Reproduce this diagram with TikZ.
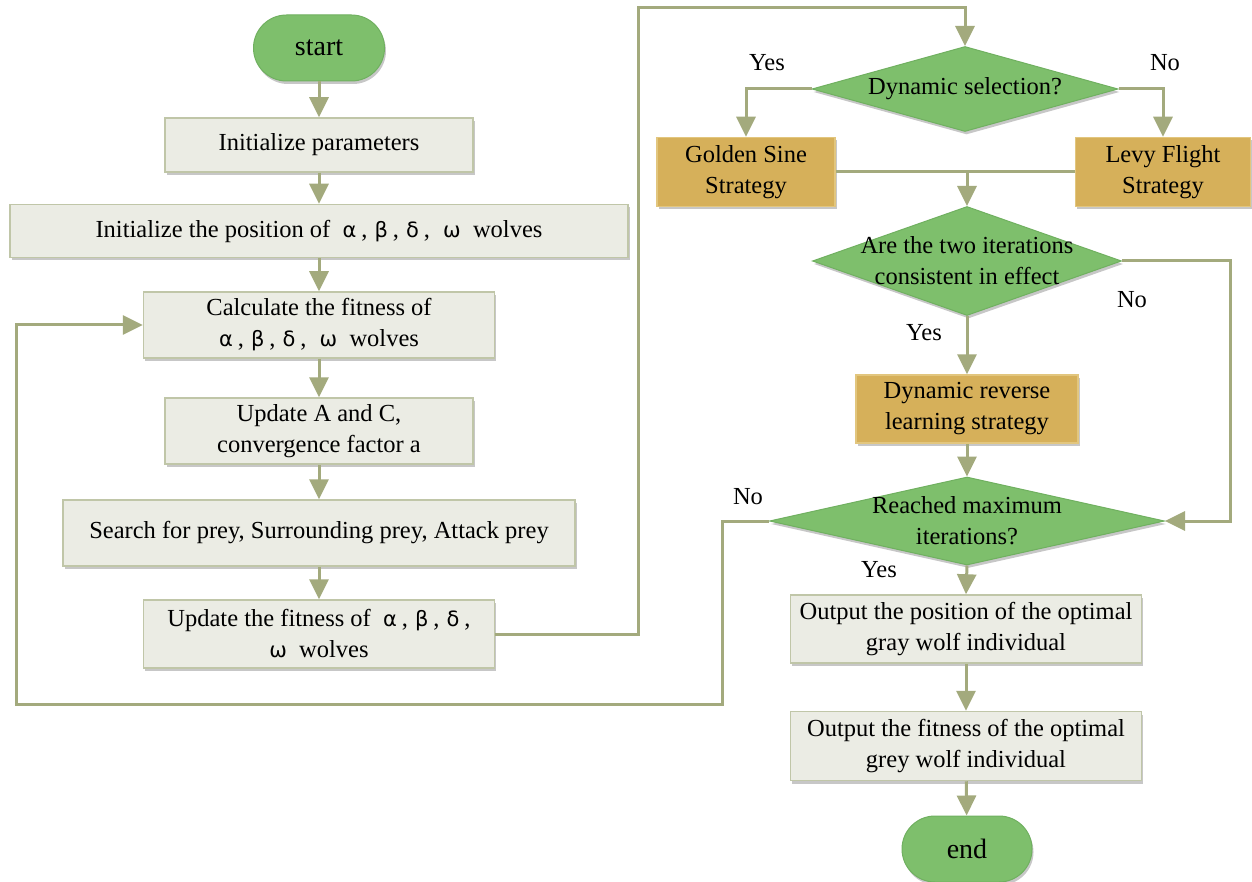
\documentclass[tikz,border=0pt]{standalone}
\usepackage{fontspec}
\setmainfont{Liberation Serif}
\newfontfamily\gk{DejaVu Sans}
\usetikzlibrary{shapes.geometric,arrows.meta,shadows}
\definecolor{grn}{RGB}{126,191,108}
\definecolor{grnb}{RGB}{112,176,96}
\definecolor{gry}{RGB}{235,236,228}
\definecolor{gryb}{RGB}{192,198,168}
\definecolor{gld}{RGB}{214,176,90}
\definecolor{gldb}{RGB}{226,198,126}
\definecolor{lnc}{RGB}{163,170,125}
\newcommand{\ga}{{\gk\fontsize{21}{31}\selectfont α}}
\newcommand{\gb}{{\gk\fontsize{21}{31}\selectfont β}}
\newcommand{\gd}{{\gk\fontsize{21}{31}\selectfont δ}}
\newcommand{\gw}{{\gk\fontsize{21}{31}\selectfont ω}}
\newcommand{\gsep}{\hspace{5pt},\hspace{7pt}}
\tikzset{
  txt/.style={font=\fontsize{24.5}{31}\selectfont, align=center},
  base/.style={txt, inner sep=0pt,
    drop shadow={shadow xshift=1.5pt,shadow yshift=-3pt,opacity=0.22,fill=black}},
  proc/.style={base, rectangle, fill=gry, draw=gryb, line width=1.5pt},
  strat/.style={base, rectangle, fill=gld, draw=gldb, line width=1.5pt},
  term/.style={base, rectangle, rounded corners=33pt, fill=grn, draw=grnb,
    line width=1pt, minimum width=131pt, minimum height=66pt,
    font=\fontsize{28}{31}\selectfont},
  dia/.style={base, diamond, fill=grn, draw=grnb, line width=1pt},
  conn/.style={draw=lnc, line width=3pt},
  arr/.style={conn, -{Triangle[width=19pt,length=20pt]}},
  lbl/.style={txt, inner sep=0pt}
}
\begin{document}
\begin{tikzpicture}[x=1pt,y=-1pt]
\useasboundingbox (0,0) rectangle (1252,882);
\fill[white] (0,0) rectangle (1252,882);
% left column
\node[term] (start) at (319,48) {start};
\node[proc, minimum width=308pt, minimum height=54pt] (init) at (319,145) {Initialize parameters};
\node[proc, minimum width=618pt, minimum height=53pt] (pos) at (319,231)
  {Initialize the position of \ \ga\gsep\gb\gsep\gd\gsep\ \gw\ \ wolves};
\node[proc, minimum width=351pt, minimum height=66pt] (calc) at (319,325)
  {Calculate the fitness of\\\ga\gsep\gb\gsep\gd\gsep\ \gw\ \ wolves};
\node[proc, minimum width=308pt, minimum height=66pt] (upd) at (319,431)
  {Update A and C,\\convergence factor a};
\node[proc, minimum width=512pt, minimum height=66pt] (search) at (319,533)
  {Search for prey, Surrounding prey, Attack prey};
\node[proc, minimum width=351pt, minimum height=68pt] (updfit) at (319,634)
  {Update the fitness of \ \ga\gsep\gb\gsep\gd\hspace{5pt},\\\gw\ \ wolves};
% right column
\node[dia, minimum width=306pt, minimum height=85pt,
  label={[lbl]center:{Dynamic selection?}}] (d1) at (965,89) {};
\node[strat, minimum width=178pt, minimum height=69pt] (gs) at (746,172) {Golden Sine\\Strategy};
\node[strat, minimum width=175pt, minimum height=69pt] (lf) at (1163,172) {Levy Flight\\Strategy};
\node[dia, minimum width=309pt, minimum height=109pt,
  label={[lbl]center:{Are the two iterations\\consistent in effect}}] (d2) at (967,261) {};
\node[strat, minimum width=222pt, minimum height=68pt] (dr) at (967,409) {Dynamic reverse\\learning strategy};
\node[dia, minimum width=395pt, minimum height=88pt,
  label={[lbl]center:{Reached maximum\\iterations?}}] (d3) at (967,521) {};
\node[proc, minimum width=351pt, minimum height=68pt] (op) at (966,629)
  {Output the position of the optimal\\gray wolf individual};
\node[proc, minimum width=351pt, minimum height=69pt] (of) at (966,746)
  {Output the fitness of the optimal\\grey wolf individual};
\node[term, minimum width=130pt] (end) at (967,849) {end};
% branch labels
\node[lbl] (y1) at (767,63) {Yes};
\node[lbl] (n1) at (1165,63) {No};
\node[lbl] (n2) at (1132,300) {No};
\node[lbl] (y2) at (924,333) {Yes};
\node[lbl] (n3) at (748,497) {No};
\node[lbl] (y3) at (879,570) {Yes};
% helper coordinates
\coordinate (c1) at (638,8);
\coordinate (c2) at (1230,261);
\coordinate (c3) at (722,704);
\coordinate (c4) at (16,704);
% connectors
\draw[arr] (start) -- (init);
\draw[arr] (init) -- (pos);
\draw[arr] (pos) -- (calc);
\draw[arr] (calc) -- (upd);
\draw[arr] (upd) -- (search);
\draw[arr] (search) -- (updfit);
\draw[arr] (updfit.east) -| (c1) -| (d1.north);
\draw[arr] (d1.west) -| (gs.north);
\draw[arr] (d1.east) -| (lf.north);
\draw[conn] (gs.east) -- (lf.west);
\draw[arr] (gs.east -| d2.north) -- (d2.north);
\draw[arr] (d2.south) -- (dr.north);
\draw[arr] (d2.east) -- (c2) |- (d3.east);
\draw[arr] (dr) -- (d3.north);
\draw[arr] (d3.south) -- (op.north);
\draw[arr] (op) -- (of);
\draw[arr] (of) -- (end);
\draw[arr] (d3.west) -| (c3) -- (c4) |- (calc.west);
\end{tikzpicture}
\end{document}
